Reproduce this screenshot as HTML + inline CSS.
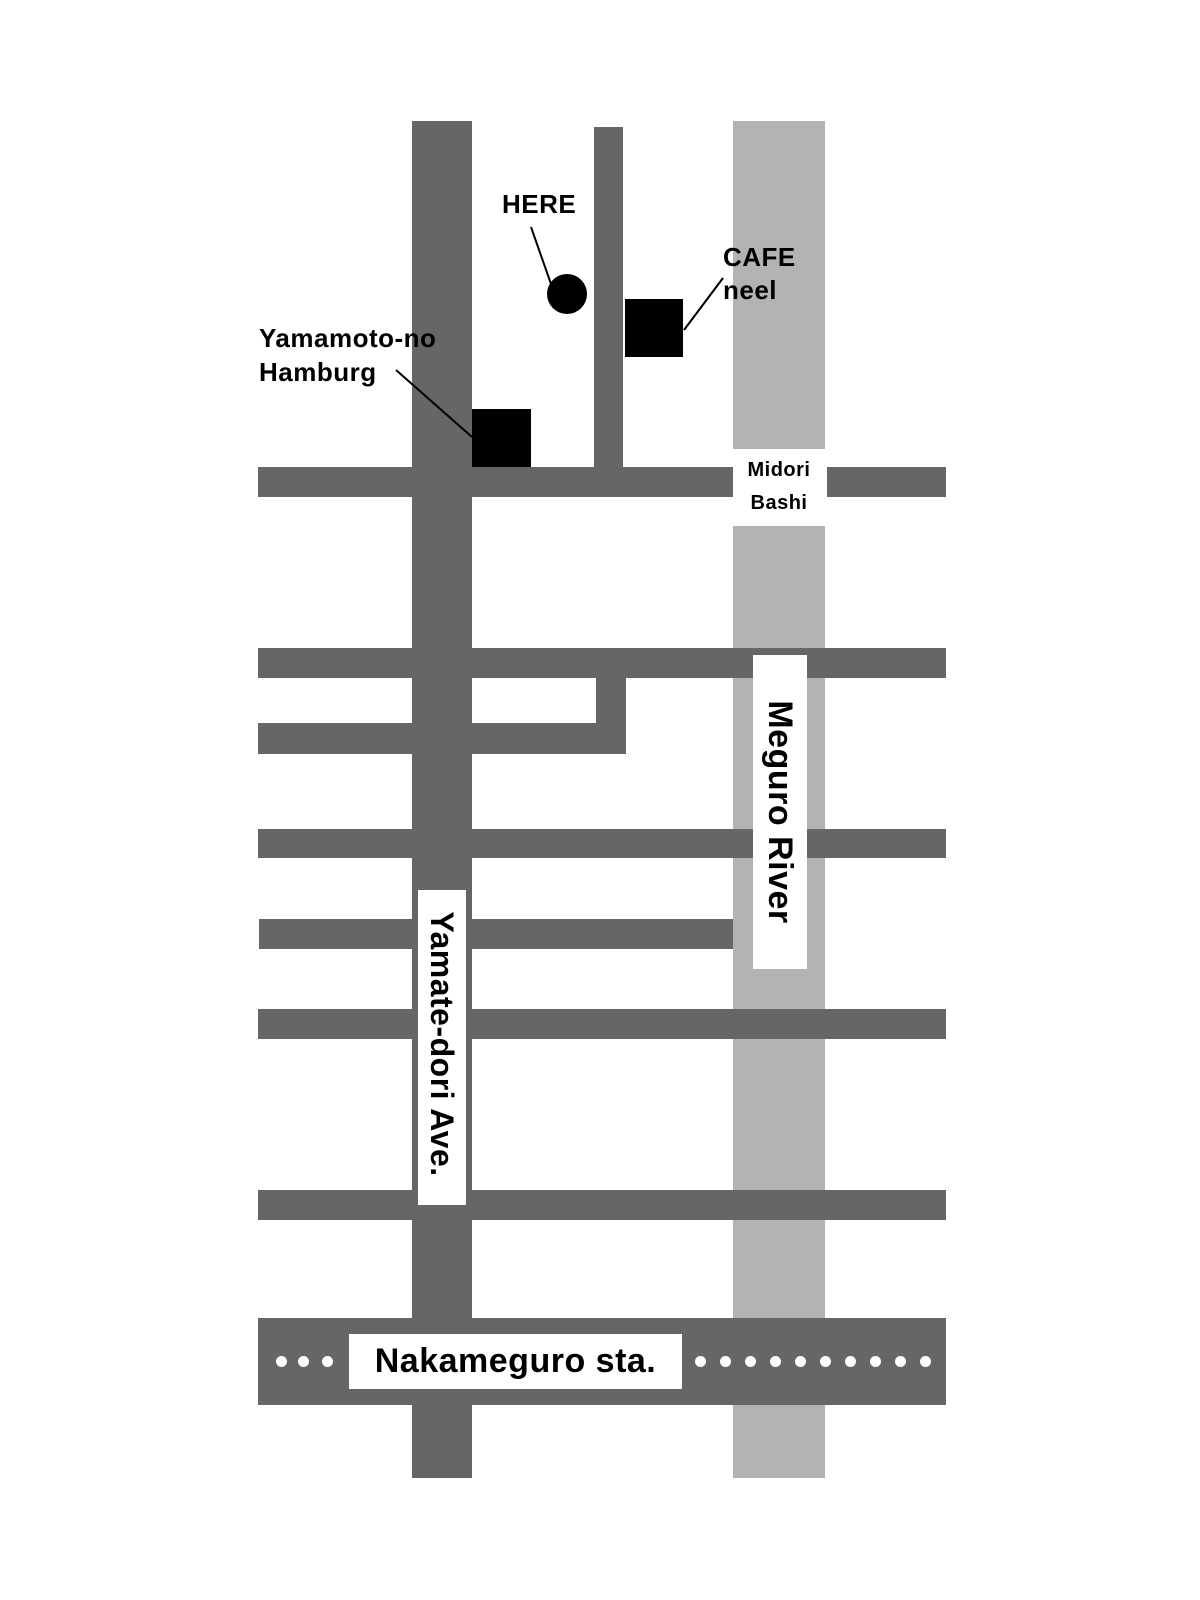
<!DOCTYPE html>
<html><head><style>
body{margin:0;width:1200px;height:1600px;background:#fff;position:relative;overflow:hidden;font-family:"Liberation Sans",sans-serif;}
div{position:absolute;}
.r{background:#666;}
.v{background:#b3b3b3;}
.t{color:#000;font-size:26px;white-space:nowrap;letter-spacing:0.5px;font-weight:bold;}
.d{width:11px;height:11px;border-radius:50%;background:#fff;top:1356px;}
</style></head><body>
<div class="v" style="left:733px;top:121px;width:92px;height:328px"></div>
<div class="v" style="left:733px;top:526px;width:92px;height:952px"></div>
<div class="r" style="left:412px;top:121px;width:60px;height:1357px"></div>
<div class="r" style="left:594px;top:127px;width:29px;height:342px"></div>
<div class="r" style="left:258px;top:467px;width:475px;height:30px"></div>
<div class="r" style="left:827px;top:467px;width:119px;height:30px"></div>
<div class="r" style="left:258px;top:648px;width:688px;height:30px"></div>
<div class="r" style="left:258px;top:723px;width:368px;height:31px"></div>
<div class="r" style="left:596px;top:678px;width:30px;height:76px"></div>
<div class="r" style="left:258px;top:829px;width:688px;height:29px"></div>
<div class="r" style="left:259px;top:919px;width:474px;height:30px"></div>
<div class="r" style="left:258px;top:1009px;width:688px;height:30px"></div>
<div class="r" style="left:258px;top:1190px;width:688px;height:30px"></div>
<div class="r" style="left:258px;top:1318px;width:688px;height:87px"></div>
<div style="left:349px;top:1334px;width:333px;height:55px;background:#fff"></div>
<div class="t" style="left:349px;top:1334px;width:333px;height:55px;line-height:55px;text-align:center;font-size:34px">Nakameguro sta.</div>
<div class="d" style="left:276px"></div><div class="d" style="left:298px"></div><div class="d" style="left:322px"></div>
<div class="d" style="left:695px"></div><div class="d" style="left:720px"></div><div class="d" style="left:745px"></div><div class="d" style="left:770px"></div><div class="d" style="left:795px"></div><div class="d" style="left:820px"></div><div class="d" style="left:845px"></div><div class="d" style="left:870px"></div><div class="d" style="left:895px"></div><div class="d" style="left:920px"></div>
<div style="left:418px;top:890px;width:48px;height:315px;background:#fff"></div>
<div class="t" style="left:282px;top:1028px;width:320px;height:32px;line-height:32px;text-align:center;transform:rotate(90deg);font-size:32px">Yamate-dori Ave.</div>
<div style="left:753px;top:655px;width:54px;height:314px;background:#fff"></div>
<div class="t" style="left:620px;top:795px;width:320px;height:34px;line-height:34px;text-align:center;transform:rotate(90deg);font-size:34px">Meguro River</div>
<div class="t" style="left:733px;top:454px;width:92px;text-align:center;font-size:20px;line-height:33px">Midori<br>Bashi</div>
<div style="left:472px;top:409px;width:59px;height:58px;background:#000"></div>
<div style="left:625px;top:299px;width:58px;height:58px;background:#000"></div>
<div style="left:547px;top:274px;width:40px;height:40px;border-radius:50%;background:#000"></div>
<svg style="position:absolute;left:0;top:0" width="1200" height="1600"><g stroke="#000" stroke-width="2"><line x1="531" y1="227" x2="551" y2="284"/><line x1="684" y1="330" x2="723" y2="278"/><line x1="396" y1="370" x2="472" y2="437"/></g></svg>
<div class="t" style="left:502px;top:187px;line-height:34px">HERE</div>
<div class="t" style="left:723px;top:241px;line-height:33px">CAFE<br>neel</div>
<div class="t" style="left:259px;top:321px;line-height:34px">Yamamoto-no<br>Hamburg</div>
</body></html>
